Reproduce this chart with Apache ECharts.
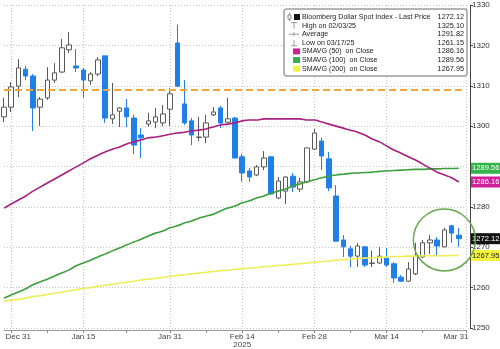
<!DOCTYPE html>
<html><head><meta charset="utf-8">
<script src="https://cdn.jsdelivr.net/npm/echarts@6/dist/echarts.min.js"></script>
<style>html,body{margin:0;padding:0;background:#fff}#c{width:500px;height:349px}</style>
</head><body><div id="c"></div>
<script>
const dates = ['Dec 30','Dec 31','Jan 2','Jan 3','Jan 6','Jan 7','Jan 8','Jan 9','Jan 10','Jan 13','Jan 14','Jan 15','Jan 16','Jan 17','Jan 20','Jan 21','Jan 22','Jan 23','Jan 24','Jan 27','Jan 28','Jan 29','Jan 30','Jan 31','Feb 3','Feb 4','Feb 5','Feb 6','Feb 7','Feb 10','Feb 11','Feb 12','Feb 13','Feb 14','Feb 17','Feb 18','Feb 19','Feb 20','Feb 21','Feb 24','Feb 25','Feb 26','Feb 27','Feb 28','Mar 3','Mar 4','Mar 5','Mar 6','Mar 7','Mar 10','Mar 11','Mar 12','Mar 13','Mar 14','Mar 17','Mar 18','Mar 19','Mar 20','Mar 21','Mar 24','Mar 25','Mar 26','Mar 27','Mar 28','Mar 31'];
const opens  = [1302.3,1304.7,1309.9,1314.1,1312.4,1304.7,1307.0,1311.4,1313.4,1318.9,1314.9,1313.9,1311.2,1312.9,1317.4,1301.8,1303.7,1304.5,1302.0,1297.8,1300.5,1301.0,1300.8,1304.2,1320.6,1305.5,1301.3,1297.2,1297.3,1302.8,1304.5,1301.0,1302.0,1292.4,1288.9,1287.9,1289.9,1292.4,1282.2,1283.9,1287.6,1284.4,1286.2,1294.3,1296.3,1291.9,1282.7,1271.8,1269.6,1267.8,1270.1,1266.0,1266.1,1267.3,1265.9,1262.6,1261.6,1263.4,1267.6,1271.1,1271.8,1270.1,1275.3,1273.0];
const closes = [1304.7,1309.7,1314.4,1312.4,1304.5,1306.7,1311.4,1313.2,1319.4,1320.1,1314.4,1311.4,1312.9,1316.4,1302.0,1302.8,1304.5,1302.3,1295.3,1297.1,1301.3,1302.3,1303.0,1308.0,1309.9,1300.8,1297.8,1297.3,1300.8,1303.5,1300.8,1301.8,1292.1,1288.4,1287.4,1289.9,1292.1,1283.2,1286.4,1287.4,1284.9,1286.2,1294.6,1298.3,1292.6,1284.7,1271.5,1270.1,1267.8,1270.3,1265.6,1266.1,1267.8,1265.6,1262.4,1261.6,1264.6,1267.8,1271.1,1271.8,1270.3,1274.3,1273.5,1272.12];
const lows   = [1301.0,1303.5,1307.2,1311.4,1298.8,1300.0,1306.5,1310.7,1313.2,1318.1,1313.4,1307.0,1310.2,1312.4,1300.8,1300.5,1299.8,1299.8,1293.1,1292.1,1299.8,1299.5,1300.0,1300.0,1309.7,1300.3,1295.3,1296.3,1295.8,1302.5,1299.5,1300.8,1292.0,1286.2,1286.2,1287.6,1289.1,1283.0,1281.9,1280.7,1283.7,1283.7,1285.9,1294.1,1289.1,1283.9,1271.4,1267.6,1265.1,1265.1,1265.1,1265.1,1265.9,1265.1,1261.15,1261.4,1261.4,1263.1,1267.3,1268.3,1267.8,1270.0,1271.1,1270.1];
const highs  = [1307.0,1310.9,1316.6,1314.9,1312.9,1307.2,1314.6,1315.6,1321.6,1323.3,1319.1,1314.4,1313.4,1317.1,1317.4,1310.7,1304.7,1306.7,1302.8,1299.5,1303.3,1304.5,1305.2,1309.4,1325.1,1311.4,1302.0,1302.3,1302.8,1304.7,1305.0,1307.0,1302.3,1293.1,1289.6,1290.4,1293.8,1292.5,1287.4,1287.6,1288.4,1287.2,1294.7,1299.3,1297.1,1293.6,1285.4,1273.0,1270.3,1271.1,1270.3,1269.1,1270.1,1269.8,1266.3,1263.1,1266.3,1271.1,1271.8,1273.0,1272.5,1274.8,1275.5,1274.8];
const sma50  = [1279.7,1280.7,1281.7,1282.7,1283.9,1284.9,1285.9,1286.9,1287.9,1288.9,1289.9,1290.9,1291.9,1292.8,1293.6,1294.3,1294.8,1295.6,1296.1,1296.6,1297.1,1297.3,1297.6,1298.0,1298.3,1298.5,1298.8,1299.0,1299.3,1299.8,1300.3,1300.5,1300.8,1301.3,1301.5,1301.5,1301.8,1301.8,1301.8,1301.8,1301.8,1301.8,1301.5,1301.5,1301.0,1300.5,1300.0,1299.5,1299.0,1298.5,1297.8,1296.8,1296.1,1295.1,1294.1,1293.3,1292.4,1291.6,1290.6,1289.6,1288.6,1287.9,1287.2,1286.16];
const sma100 = [1257.4,1258.2,1258.9,1259.7,1260.7,1261.4,1262.1,1262.9,1263.6,1264.4,1265.4,1266.1,1266.8,1267.6,1268.3,1269.1,1269.8,1270.6,1271.3,1272.0,1272.8,1273.5,1274.0,1274.8,1275.3,1276.0,1276.5,1277.2,1277.7,1278.2,1279.0,1279.7,1280.2,1281.0,1281.5,1282.2,1282.7,1283.4,1283.9,1284.4,1285.2,1285.7,1286.2,1286.7,1287.2,1287.6,1287.9,1288.1,1288.3,1288.4,1288.5,1288.6,1288.8,1288.9,1289.0,1289.1,1289.2,1289.3,1289.3,1289.4,1289.4,1289.5,1289.5,1289.56];
const sma200 = [1256.6,1256.9,1257.1,1257.4,1257.8,1258.0,1258.3,1258.6,1258.9,1259.2,1259.5,1259.8,1260.0,1260.3,1260.6,1260.8,1261.1,1261.3,1261.6,1261.9,1262.1,1262.3,1262.5,1262.8,1263.0,1263.2,1263.4,1263.6,1263.8,1264.0,1264.2,1264.3,1264.5,1264.7,1264.8,1265.0,1265.2,1265.3,1265.5,1265.6,1265.8,1265.9,1266.1,1266.3,1266.4,1266.6,1266.8,1266.9,1267.1,1267.2,1267.3,1267.4,1267.5,1267.6,1267.7,1267.7,1267.8,1267.8,1267.9,1267.9,1267.9,1267.9,1267.95,1267.95];
const yMin = 1250, yMax = 1330, yStep = 10;
const refLevel = 1309.1;
const labelDates = ['Dec 31','Jan 15','Jan 31','Feb 14','Feb 28','Mar 14','Mar 31'];
const midTickDates = ['Jan 8','Jan 23','Feb 7','Feb 21','Mar 7','Mar 21'];
const legendNames = ['Bloomberg Dollar Spot Index - Last Price','High on 02/03/25','Average','Low on 03/17/25','SMAVG (50)  on Close','SMAVG (100)  on Close','SMAVG (200)  on Close'];
const legendValues = ['1272.12','1325.10','1291.82','1261.15','1286.16','1289.56','1267.95'];
const circleCenter = ['Mar 26', 1271.8];

const FONT = 'Liberation Sans, Arial, sans-serif';
const C50 = '#a8207e', C100 = '#3d9e3d', C200 = '#eeee5a', BLUE = '#1f80e8';
const TAG50 = '#d11f9a', TAG100 = '#34b34a', TAG200 = '#f4f43c';
const CLEAR = 'rgba(0,0,0,0)';

const candleData = dates.map((d, i) => i < opens.length ? [opens[i], closes[i], lows[i], highs[i]] : '-');
const pad = arr => arr.concat(new Array(dates.length - arr.length).fill('-'));

function tagLabel(v, bg, fg) {
  return { show: true, position: 'end', distance: 5, formatter: v.toFixed(2),
    backgroundColor: bg, color: fg, padding: [2, 1, 1, 1], fontSize: 7.6, fontFamily: FONT };
}
function tagLine(v, bg, fg) {
  return { silent: true, symbol: 'none', animation: false,
    data: [{ yAxis: v, lineStyle: { color: CLEAR, width: 0.1 }, label: tagLabel(v, bg, fg) }] };
}

const chart = echarts.init(document.getElementById('c'), null, { renderer: 'canvas' });
const lastClose = closes[closes.length - 1];
chart.setOption({
  animation: false,
  backgroundColor: '#fff',
  grid: { left: 4, right: 34, top: 5, bottom: 21, containLabel: false, outerBoundsMode: 'none' },
  xAxis: {
    type: 'category', data: dates, boundaryGap: false, offset: 2,
    axisLine: { show: true, lineStyle: { color: '#9a9a9a', width: 1 } },
    axisTick: { show: true, length: 3, interval: (i, v) => labelDates.includes(v) || midTickDates.includes(v), lineStyle: { color: '#888' } },
    axisLabel: {
      interval: (i, v) => labelDates.includes(v), margin: 3,
      fontSize: 8, color: '#444', fontFamily: FONT,
      formatter: v => v === 'Feb 14' ? '{n|Feb 14}\n{n|2025}' : v === 'Dec 31' ? '{l|Dec 31}' : v === 'Mar 31' ? '{r|Mar 31}' : '{n|' + v + '}',
      rich: {
        n: { fontSize: 8, color: '#444', fontFamily: FONT, lineHeight: 8 },
        l: { fontSize: 8, color: '#444', fontFamily: FONT, lineHeight: 8, padding: [0, 0, 0, 14] },
        r: { fontSize: 8, color: '#444', fontFamily: FONT, lineHeight: 8, padding: [0, 20, 0, 0] }
      }
    },
    splitLine: { show: true, interval: (i, v) => labelDates.includes(v), lineStyle: { color: '#c4c4c4', type: [1, 2] } }
  },
  yAxis: {
    type: 'value', position: 'right', min: yMin, max: yMax, interval: yStep, offset: 4,
    axisLine: { show: true, lineStyle: { color: '#444' } },
    axisTick: { show: true, length: 3, lineStyle: { color: '#444' } },
    axisLabel: { margin: 2, fontSize: 8, color: '#333', fontFamily: FONT, formatter: v => v === 1290 ? '' : String(v) },
    splitLine: { show: true, lineStyle: { color: '#c4c4c4', type: [1, 2] } }
  },
  series: [
    {
      type: 'candlestick', data: candleData, barWidth: 5, clip: false,
      itemStyle: { color: '#ffffff', color0: BLUE, borderColor: '#5a5a5a', borderColor0: BLUE, borderColorDoji: '#222', borderWidth: 1 },
      markLine: {
        silent: true, symbol: 'none', animation: false,
        data: [
          { yAxis: refLevel, lineStyle: { color: '#f2a53a', width: 2, type: [7, 4] }, label: { show: false } },
          { yAxis: lastClose, lineStyle: { color: CLEAR, width: 0.1 }, label: tagLabel(lastClose, '#111', '#fff') }
        ]
      }
    },
    { type: 'line', data: pad(sma200), symbol: 'none', smooth: 0.3, lineStyle: { color: C200, width: 1.6 }, markLine: tagLine(sma200[sma200.length - 1], TAG200, '#222') },
    { type: 'line', data: pad(sma100), symbol: 'none', smooth: 0.3, lineStyle: { color: C100, width: 1.6 }, markLine: tagLine(sma100[sma100.length - 1], TAG100, '#fff') },
    { type: 'line', data: pad(sma50), symbol: 'none', smooth: 0.3, lineStyle: { color: C50, width: 1.6 }, markLine: tagLine(sma50[sma50.length - 1], TAG50, '#fff') }
  ]
});

// legend box + annotation circle
const rows = legendNames.length, rowY0 = 17, rowStep = 8.6;
const g = [{ type: 'rect', z: 100, shape: { x: 284, y: 9, width: 183, height: 67, r: 2 }, style: { fill: '#fff', stroke: '#6a6a6a', lineWidth: 1 } }];
const sqColors = [null, null, null, null, TAG50, TAG100, TAG200];
for (let i = 0; i < rows; i++) {
  const y = rowY0 + i * rowStep;
  g.push({ type: 'text', z: 101, x: 302, y: y, style: { text: legendNames[i], fill: '#222', fontSize: 7.1, fontFamily: FONT, verticalAlign: 'middle', align: 'left' } });
  g.push({ type: 'text', z: 101, x: 464, y: y, style: { text: legendValues[i], fill: '#222', fontSize: 7.3, fontFamily: FONT, verticalAlign: 'middle', align: 'right' } });
  if (i === 0) {
    g.push({ type: 'line', z: 101, shape: { x1: 289.5, y1: y - 4, x2: 289.5, y2: y + 4 }, style: { stroke: '#888', lineWidth: 1 } });
    g.push({ type: 'rect', z: 102, shape: { x: 288, y: y - 2, width: 3, height: 4 }, style: { fill: '#fff', stroke: '#888', lineWidth: 1 } });
    g.push({ type: 'rect', z: 101, shape: { x: 294, y: y - 3, width: 6, height: 6 }, style: { fill: '#111' } });
  } else if (i === 1) {
    g.push({ type: 'line', z: 101, shape: { x1: 291, y1: y - 3, x2: 297, y2: y - 3 }, style: { stroke: '#999', lineWidth: 1 } });
    g.push({ type: 'line', z: 101, shape: { x1: 294, y1: y - 3, x2: 294, y2: y + 3 }, style: { stroke: '#999', lineWidth: 1 } });
  } else if (i === 2) {
    g.push({ type: 'line', z: 101, shape: { x1: 289, y1: y, x2: 299, y2: y }, style: { stroke: '#999', lineWidth: 1 } });
    g.push({ type: 'line', z: 101, shape: { x1: 294, y1: y - 2, x2: 294, y2: y + 2 }, style: { stroke: '#999', lineWidth: 1 } });
  } else if (i === 3) {
    g.push({ type: 'line', z: 101, shape: { x1: 294, y1: y - 3, x2: 294, y2: y + 3 }, style: { stroke: '#999', lineWidth: 1 } });
    g.push({ type: 'line', z: 101, shape: { x1: 291, y1: y + 3, x2: 297, y2: y + 3 }, style: { stroke: '#999', lineWidth: 1 } });
  } else {
    g.push({ type: 'rect', z: 101, shape: { x: 293, y: y - 3, width: 7, height: 6 }, style: { fill: sqColors[i] } });
  }
}
const cc = chart.convertToPixel({ xAxisIndex: 0, yAxisIndex: 0 }, circleCenter);
g.push({ type: 'circle', z: 90, shape: { cx: cc[0], cy: cc[1], r: 31 }, style: { fill: 'none', stroke: '#6aa84f', lineWidth: 1.5 } });
chart.setOption({ graphic: g });
</script>
</body></html>
